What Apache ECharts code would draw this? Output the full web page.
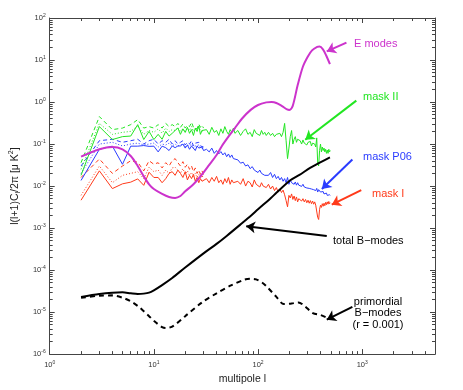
<!DOCTYPE html>
<html>
<head>
<meta charset="utf-8">
<script src="https://cdn.jsdelivr.net/npm/echarts@6/dist/echarts.min.js"></script>
<style>
  html, body { margin: 0; padding: 0; background: #fff; }
  #chart { width: 463px; height: 390px; }
</style>
</head>
<body>
<div id="chart"></div>
<script>
// multipoles: integer l at low l, then sparser towards l = 500
const lowL = [2, 3, 4, 5, 6, 7, 8, 9, 10, 11, 12, 13, 14, 15, 16, 17, 18, 19, 20, 21, 22, 23, 24, 25, 26, 27, 28, 29, 30]
const highL = [32, 34, 36, 38, 40, 42, 44, 46, 48, 50, 52, 54, 56, 58, 60,
  64, 68, 72, 76, 80, 84, 88, 92, 96, 100, 104, 108, 112, 116, 120,
  126, 132, 138, 144, 150, 156, 162, 168, 174, 180, 186, 192, 198, 204, 210, 216, 222, 228, 234, 240, 246,
  254, 262, 270, 278, 286, 294, 302, 310, 318, 326, 334, 342, 350, 358, 366, 374, 382, 390, 398, 406, 414, 422, 430, 438, 446, 454, 462, 470, 478, 486, 494]

// mask II (green)
const mask2Solid = [0.018, 0.26, 0.128, 0.15, 0.155, 0.29, 0.128, 0.2, 0.128, 0.17, 0.13, 0.2, 0.155, 0.18, 0.21, 0.24,
  0.17, 0.23, 0.19, 0.25, 0.18, 0.22, 0.16, 0.24, 0.2, 0.27, 0.17, 0.21, 0.19,
  0.22, 0.17, 0.25, 0.19, 0.21, 0.16, 0.23, 0.18, 0.26, 0.2, 0.17, 0.22, 0.19, 0.24, 0.18,
  0.21, 0.16, 0.2, 0.23, 0.17, 0.19, 0.15, 0.22, 0.18, 0.2, 0.16, 0.21, 0.17, 0.19, 0.16,
  0.19, 0.16, 0.18, 0.15, 0.17, 0.16, 0.18, 0.15, 0.19, 0.31, 0.12, 0.045, 0.08, 0.15, 0.21, 0.1, 0.13, 0.15, 0.11, 0.13, 0.12,
  0.12, 0.1, 0.125, 0.105, 0.115, 0.095, 0.11, 0.1, 0.115, 0.09, 0.105, 0.095, 0.1, 0.085, 0.14, 0.035, 0.03, 0.07, 0.1, 0.065,
  0.085, 0.07, 0.08, 0.065, 0.075, 0.06, 0.072, 0.06, 0.075, 0.065, 0.07]
const mask2Dashed = [0.036, 0.45, 0.22, 0.24, 0.29, 0.38, 0.24, 0.26, 0.24, 0.29, 0.24, 0.31, 0.26, 0.29, 0.26, 0.31,
  0.25, 0.3, 0.24, 0.28, 0.26, 0.33, 0.25, 0.27, 0.23, 0.3, 0.25, 0.28, 0.24]
const mask2Dotted = [0.025, 0.31, 0.17, 0.19, 0.2, 0.27, 0.17, 0.21, 0.19, 0.23, 0.18, 0.24, 0.2, 0.22, 0.21, 0.25,
  0.2, 0.23, 0.19, 0.24, 0.21, 0.26, 0.2, 0.23, 0.2, 0.25, 0.21, 0.23, 0.2]

// mask P06 (blue)
const maskP06Solid = [0.0136, 0.075, 0.089, 0.033, 0.089, 0.089, 0.092, 0.088, 0.089, 0.065, 0.089, 0.082, 0.07, 0.09, 0.082, 0.09,
  0.09, 0.1, 0.08, 0.095, 0.075, 0.09, 0.085, 0.07, 0.09, 0.08, 0.075, 0.085, 0.07,
  0.075, 0.065, 0.08, 0.06, 0.07, 0.058, 0.066, 0.055, 0.062, 0.05, 0.058, 0.048, 0.055, 0.045, 0.05,
  0.042, 0.035, 0.037, 0.03, 0.032, 0.026, 0.029, 0.024, 0.026, 0.021, 0.024, 0.02, 0.022, 0.018, 0.02,
  0.018, 0.021, 0.016, 0.019, 0.015, 0.017, 0.014, 0.016, 0.013, 0.015, 0.012, 0.016, 0.011, 0.014, 0.012, 0.013, 0.011, 0.0125, 0.0105, 0.012, 0.0105,
  0.0115, 0.0098, 0.011, 0.0095, 0.0105, 0.009, 0.01, 0.0088, 0.0097, 0.0085, 0.0094, 0.0082, 0.009, 0.0078, 0.0088, 0.0072,
  0.0082, 0.0076, 0.0072, 0.008, 0.0068, 0.0074, 0.0065, 0.007, 0.0062, 0.0068, 0.006, 0.0065, 0.0058, 0.0062, 0.006]
const maskP06Dashed = [0.03, 0.12, 0.13, 0.11, 0.12, 0.13, 0.1, 0.12, 0.13, 0.1, 0.12, 0.11, 0.13, 0.1, 0.12, 0.1,
  0.11, 0.12, 0.095, 0.11, 0.1, 0.12, 0.09, 0.105, 0.095, 0.11, 0.09, 0.1, 0.085]
const maskP06Dotted = [0.02, 0.1, 0.11, 0.09, 0.1, 0.105, 0.095, 0.1, 0.105, 0.085, 0.1, 0.095, 0.105, 0.09, 0.1, 0.09,
  0.095, 0.1, 0.085, 0.095, 0.09, 0.1, 0.08, 0.09, 0.085, 0.095, 0.08, 0.088, 0.078]

// mask I (red)
const mask1Solid = [0.0046, 0.023, 0.0087, 0.0113, 0.0124, 0.0148, 0.0104, 0.0213, 0.016, 0.016, 0.012, 0.015, 0.02, 0.022, 0.018, 0.024,
  0.02, 0.016, 0.022, 0.014, 0.018, 0.015, 0.019, 0.013, 0.016, 0.012, 0.015, 0.013, 0.014,
  0.015, 0.012, 0.016, 0.013, 0.017, 0.012, 0.014, 0.011, 0.015, 0.012, 0.016, 0.011, 0.014, 0.012, 0.013,
  0.013, 0.011, 0.015, 0.01, 0.013, 0.012, 0.0095, 0.014, 0.011, 0.012, 0.0095, 0.012, 0.01, 0.011, 0.0092,
  0.011, 0.0085, 0.01, 0.0078, 0.0092, 0.0072, 0.0085, 0.007, 0.008, 0.0062, 0.0045, 0.0032, 0.006, 0.0052, 0.0065, 0.0048, 0.0058, 0.0045, 0.0055, 0.0042, 0.005,
  0.0052, 0.0044, 0.005, 0.0042, 0.0048, 0.004, 0.0046, 0.0039, 0.0045, 0.0038, 0.0044, 0.0037, 0.0042, 0.0035, 0.0032, 0.0018,
  0.0016, 0.0028, 0.0035, 0.0031, 0.0038, 0.0033, 0.0039, 0.0034, 0.0041, 0.0036, 0.0042, 0.0037, 0.0043, 0.0038, 0.004]
const mask1Dashed = [0.016, 0.044, 0.02, 0.03, 0.04, 0.037, 0.023, 0.04, 0.033, 0.036, 0.027, 0.036, 0.03, 0.04, 0.045, 0.036,
  0.03, 0.038, 0.028, 0.033, 0.025, 0.03, 0.022, 0.027, 0.02, 0.024, 0.019, 0.023, 0.018]
const mask1Dotted = [0.006, 0.03, 0.012, 0.018, 0.02, 0.022, 0.015, 0.028, 0.022, 0.024, 0.018, 0.024, 0.02, 0.027, 0.028, 0.024,
  0.02, 0.026, 0.019, 0.023, 0.018, 0.021, 0.017, 0.02, 0.016, 0.019, 0.015, 0.018, 0.015]

// E modes
const eModeL = [2, 3, 4, 5, 6, 7, 8, 9, 10, 12, 14, 16, 18, 20, 24, 28, 34, 40, 45, 52, 60, 70, 85, 100, 120, 135, 150, 170, 190, 200, 215, 240, 270, 300, 330, 370, 390, 420, 450, 490]
const eModeV = [0.05, 0.075, 0.085, 0.075, 0.052, 0.03, 0.017, 0.011, 0.0085, 0.0065, 0.0055, 0.0052, 0.0058, 0.0075, 0.011, 0.017, 0.032, 0.055, 0.09, 0.15, 0.24, 0.4, 0.65, 0.85, 0.98, 1.0, 0.95, 0.8, 0.67, 0.65, 0.8, 2.5, 7, 12, 17, 20.5, 21, 18, 13, 8]

// total B modes
const totalBL = [2, 3, 4, 5, 6, 7, 8, 9, 10, 12, 15, 20, 30, 40, 50, 70, 86, 100, 133, 150, 204, 250, 316, 400, 490]
const totalBV = [2.3e-5, 2.7e-5, 2.9e-5, 2.95e-5, 2.8e-5, 2.7e-5, 2.75e-5, 2.9e-5, 3.3e-5, 4.4e-5, 6.5e-5, 1.15e-4, 2.5e-4, 4.2e-4, 6.5e-4, 1.3e-3, 2.0e-3, 2.8e-3, 5.2e-3, 6.9e-3, 0.0138, 0.0185, 0.027, 0.037, 0.048]

// primordial B modes, r = 0.001
const primBL = [2, 3, 4, 5, 6, 7, 8, 9, 10, 12, 13, 15, 20, 29, 40, 55, 74, 85, 96, 110, 123, 150, 177, 210, 244, 280, 336, 400, 455]
const primBV = [2.2e-5, 2.45e-5, 2.5e-5, 2.2e-5, 1.8e-5, 1.4e-5, 1.05e-5, 8e-6, 6.2e-6, 4.4e-6, 4.2e-6, 4.5e-6, 8e-6, 1.7e-5, 2.8e-5, 4.3e-5, 5.9e-5, 6.2e-5, 6e-5, 5e-5, 3.9e-5, 2.3e-5, 1.55e-5, 1.6e-5, 1.7e-5, 1.4e-5, 9.5e-6, 8.5e-6, 7.4e-6]

// annotation arrows: [from, to] in (l, value)
const arrowE = [[706, 26], [457, 16]]
const arrowMask2 = [[878, 1.08], [284, 0.126]]
const arrowP06 = [[805, 0.043], [410, 0.0085]]
const arrowMask1 = [[980, 0.008], [510, 0.0036]]
const arrowTotal = [[457, 6.5e-4], [77, 1.1e-3]]
const arrowPrim = [[805, 1.33e-5], [457, 6.6e-6]]

const GREEN = '#22e622'
const BLUE = '#2a3cff'
const RED = '#ff3a1a'
const MAGENTA = '#cc33cc'
const FONT = 'Liberation Sans, Arial, Helvetica, sans-serif'
const AXIS_COLOR = '#444'

const allL = lowL.concat(highL)

function pairs(ls, vs) {
  return vs.map((v, i) => [ls[i], v])
}

function arrowLine(a, color) {
  return {
    silent: true,
    symbol: ['none', 'arrow'],
    symbolSize: 9,
    label: { show: false },
    lineStyle: { color: color, width: 2, type: 'solid' },
    data: [[{ coord: a[0] }, { coord: a[1] }]]
  }
}

function thin(name, ls, vs, color, type, mark) {
  const s = {
    name: name,
    type: 'line',
    showSymbol: false,
    silent: true,
    data: pairs(ls, vs),
    lineStyle: { color: color, width: 1, type: type },
    z: 2
  }
  if (mark) s.markLine = mark
  return s
}

const supLabel = v => '{b|10}{s|' + Math.round(Math.log10(v)) + '}'
const tickRich = {
  b: { fontSize: 7.5, color: '#333', fontFamily: FONT, lineHeight: 10 },
  s: { fontSize: 5, color: '#333', fontFamily: FONT, lineHeight: 10, verticalAlign: 'top' }
}

function logAxis(extra) {
  return Object.assign({
    type: 'log',
    logBase: 10,
    axisLine: { show: true, onZero: false, lineStyle: { color: AXIS_COLOR, width: 1 } },
    axisTick: { inside: true, length: 5, lineStyle: { color: AXIS_COLOR } },
    minorTick: { show: true, splitNumber: 9, length: 3, lineStyle: { color: AXIS_COLOR } },
    splitLine: { show: false },
    minorSplitLine: { show: false }
  }, extra)
}

const chart = echarts.init(document.getElementById('chart'))

chart.setOption({
  animation: false,
  backgroundColor: '#fff',
  grid: { left: 45, right: 28, top: 18, bottom: 30 },
  xAxis: [
    logAxis({
      min: 1, max: 5000, position: 'bottom',
      axisLabel: { formatter: supLabel, rich: tickRich, margin: 6, showMaxLabel: false },
      name: 'multipole l',
      nameLocation: 'middle',
      nameGap: 15,
      nameTextStyle: { fontSize: 10.5, color: '#222', fontFamily: FONT, verticalAlign: 'top' }
    }),
    logAxis({ min: 1, max: 5000, position: 'top', axisLabel: { show: false } })
  ],
  yAxis: [
    logAxis({
      min: 1e-6, max: 100, position: 'left',
      axisLabel: { formatter: supLabel, rich: tickRich, margin: 4 },
      name: '{t|l(l+1)C}{sub|l}{t|/2π [μ K}{sup|2}{t|]}',
      nameLocation: 'middle',
      nameGap: 26,
      nameTextStyle: {
        color: '#222',
        rich: {
          t: { fontSize: 10.5, fontFamily: FONT, color: '#222', lineHeight: 14 },
          sub: { fontSize: 7, fontFamily: FONT, color: '#222', lineHeight: 14, verticalAlign: 'bottom' },
          sup: { fontSize: 7, fontFamily: FONT, color: '#222', lineHeight: 14, verticalAlign: 'top' }
        }
      }
    }),
    logAxis({ min: 1e-6, max: 100, position: 'right', axisLabel: { show: false } })
  ],
  series: [
    thin('mask I dotted', lowL, mask1Dotted, RED, [1, 2]),
    thin('mask I dashed', lowL, mask1Dashed, RED, [4, 3]),
    thin('mask I', allL, mask1Solid, RED, 'solid', arrowLine(arrowMask1, RED)),
    thin('mask P06 dotted', lowL, maskP06Dotted, BLUE, [1, 2]),
    thin('mask P06 dashed', lowL, maskP06Dashed, BLUE, [4, 3]),
    thin('mask P06', allL, maskP06Solid, BLUE, 'solid', arrowLine(arrowP06, BLUE)),
    thin('mask II dotted', lowL, mask2Dotted, GREEN, [1, 2]),
    thin('mask II dashed', lowL, mask2Dashed, GREEN, [4, 3]),
    thin('mask II', allL, mask2Solid, GREEN, 'solid', arrowLine(arrowMask2, GREEN)),
    {
      name: 'E modes',
      type: 'line',
      showSymbol: false,
      silent: true,
      smooth: 0.3,
      data: pairs(eModeL, eModeV),
      lineStyle: { color: MAGENTA, width: 2 },
      markLine: arrowLine(arrowE, MAGENTA),
      z: 3
    },
    {
      name: 'total B-modes',
      type: 'line',
      showSymbol: false,
      silent: true,
      smooth: 0.3,
      data: pairs(totalBL, totalBV),
      lineStyle: { color: '#000', width: 2 },
      markLine: arrowLine(arrowTotal, '#000'),
      z: 4
    },
    {
      name: 'primordial B-modes',
      type: 'line',
      showSymbol: false,
      silent: true,
      smooth: 0.3,
      data: pairs(primBL, primBV),
      lineStyle: { color: '#000', width: 2, type: [5, 4] },
      markLine: arrowLine(arrowPrim, '#000'),
      z: 4
    }
  ],
  graphic: [
    { type: 'text', x: 354, y: 44, style: { text: 'E modes', fill: MAGENTA, font: '11px ' + FONT, textVerticalAlign: 'middle', verticalAlign: 'middle' } },
    { type: 'text', x: 363, y: 97, style: { text: 'mask II', fill: GREEN, font: '11px ' + FONT, textVerticalAlign: 'middle', verticalAlign: 'middle' } },
    { type: 'text', x: 363, y: 157, style: { text: 'mask P06', fill: BLUE, font: '11px ' + FONT, textVerticalAlign: 'middle', verticalAlign: 'middle' } },
    { type: 'text', x: 372, y: 194, style: { text: 'mask I', fill: RED, font: '11px ' + FONT, textVerticalAlign: 'middle', verticalAlign: 'middle' } },
    { type: 'text', x: 333, y: 241, style: { text: 'total B−modes', fill: '#000', font: '11px ' + FONT, textVerticalAlign: 'middle', verticalAlign: 'middle' } },
    {
      type: 'text', x: 378, y: 296,
      style: {
        text: 'primordial\nB−modes\n(r = 0.001)', fill: '#000', font: '11px ' + FONT, lineHeight: 11.5,
        textAlign: 'center', align: 'center', textVerticalAlign: 'top', verticalAlign: 'top'
      }
    }
  ]
})
</script>
</body>
</html>
